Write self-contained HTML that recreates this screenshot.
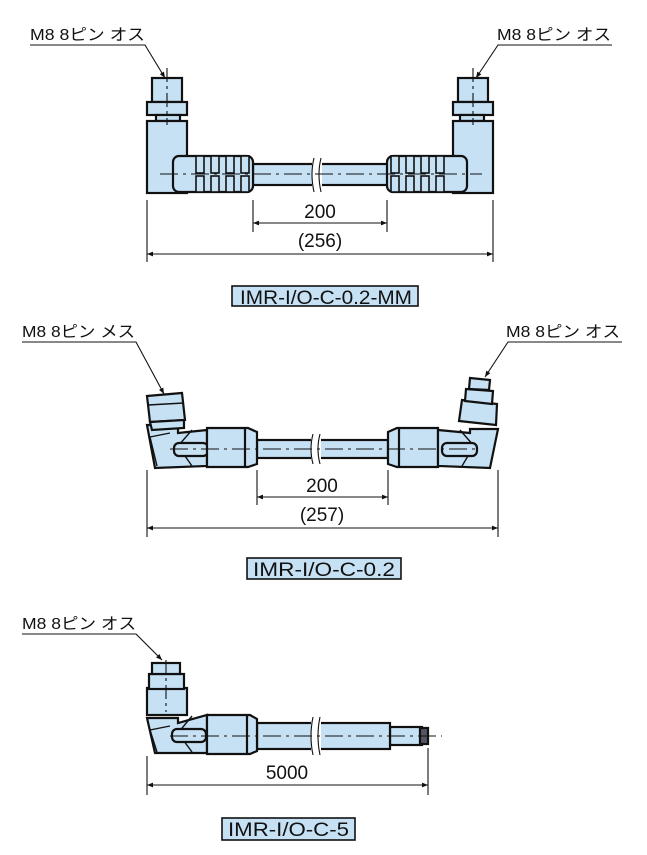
<!DOCTYPE html>
<html><head><meta charset="utf-8"><style>
html,body{margin:0;padding:0;background:#fff;}
svg{display:block;}
text{font-family:"Liberation Sans","Noto Sans CJK JP",sans-serif;fill:#111;}
</style></head><body>
<svg width="647" height="855" viewBox="0 0 647 855" xmlns="http://www.w3.org/2000/svg">
<defs>
<marker id="ar" viewBox="0 0 10 10" refX="10" refY="5" markerWidth="10" markerHeight="6" orient="auto-start-reverse" markerUnits="userSpaceOnUse"><path d="M0,1 L10,5 L0,9 z" fill="#111"/></marker>
</defs>
<g stroke="#111" fill="#c6e1f4" stroke-width="2.2">

<!-- ===== Diagram 1 ===== -->
<g fill="none" stroke-width="1.1">
<polyline points="30,45 145,45 165,78" marker-end="url(#ar)"/>
<polyline points="612,45 498,45 476,78" marker-end="url(#ar)"/>
</g>
<rect x="152" y="78" width="30" height="24"/>
<rect x="147" y="102" width="40" height="13"/>
<rect x="156" y="115" width="24" height="6"/>
<rect x="147" y="121" width="40" height="72"/>
<rect x="253" y="164" width="135" height="21"/>
<rect x="173" y="156" width="80" height="36" rx="6"/>
<g fill="#c6e1f4" stroke-width="1.6">
<rect x="196" y="156" width="8" height="17"/><rect x="196" y="176" width="8" height="16"/>
<rect x="211" y="156" width="8" height="17"/><rect x="211" y="176" width="8" height="16"/>
<rect x="226" y="156" width="8" height="17"/><rect x="226" y="176" width="8" height="16"/>
<rect x="241" y="156" width="8" height="17"/><rect x="241" y="176" width="8" height="16"/>
</g>
<rect x="458" y="78" width="30" height="24"/>
<rect x="453" y="102" width="40" height="13"/>
<rect x="460" y="115" width="24" height="6"/>
<rect x="453" y="121" width="40" height="72"/>
<rect x="387" y="156" width="80" height="36" rx="6"/>
<g fill="#c6e1f4" stroke-width="1.6">
<rect x="391" y="156" width="8" height="17"/><rect x="391" y="176" width="8" height="16"/>
<rect x="406" y="156" width="8" height="17"/><rect x="406" y="176" width="8" height="16"/>
<rect x="421" y="156" width="8" height="17"/><rect x="421" y="176" width="8" height="16"/>
<rect x="436" y="156" width="8" height="17"/><rect x="436" y="176" width="8" height="16"/>
</g>
<rect x="312" y="160" width="10" height="30" fill="#fff" stroke="none"/>
<g fill="none" stroke-width="1.1">
<path d="M314,158 q-4,16 0,34 M321,158 q-4,16 0,34"/>
<line x1="160" y1="174" x2="482" y2="174" stroke-dasharray="18,5,3,5"/>
<line x1="167" y1="68" x2="167" y2="125" stroke-dasharray="14,4,3,4"/>
<line x1="473" y1="68" x2="473" y2="125" stroke-dasharray="14,4,3,4"/>
<line x1="147" y1="200" x2="147" y2="262"/>
<line x1="493" y1="200" x2="493" y2="262"/>
<line x1="253" y1="200" x2="253" y2="232"/>
<line x1="387" y1="200" x2="387" y2="232"/>
<line x1="253" y1="223" x2="387" y2="223" marker-start="url(#ar)" marker-end="url(#ar)"/>
<line x1="147" y1="254" x2="493" y2="254" marker-start="url(#ar)" marker-end="url(#ar)"/>
</g>
<rect x="232" y="286" width="186" height="20" stroke-width="1.6"/>

<!-- ===== Diagram 2 ===== -->
<g fill="none" stroke-width="1.1">
<polyline points="22,342 136,342 164,394" marker-end="url(#ar)"/>
<polyline points="622,342 508,342 485,377" marker-end="url(#ar)"/>
</g>
<rect x="257" y="440" width="131" height="18"/>
<path d="M147,425 L178,425 L178,433 L207,430 L207,466 L155,468 Z"/>
<path d="M170,433 L150,437 L157,466" fill="none" stroke-width="1.4"/>
<path d="M192,430 L178,446 L192,466" fill="none" stroke-width="1.4"/>
<rect x="174" y="443" width="34" height="13" rx="5"/>
<path d="M207,428 L248,428 L257,432 L257,464 L248,467 L207,467 Z"/>
<line x1="245" y1="428" x2="245" y2="467"/>
<path d="M147,396 L182,393 L185,420 L150,422 Z"/>
<line x1="148" y1="405" x2="184" y2="403" stroke-width="1.4"/>
<path d="M150,422 L184,420 L184,428 L152,430 Z"/>
<path d="M388,432 L397,428 L438,428 L438,467 L397,467 L388,464 Z"/>
<line x1="399" y1="428" x2="399" y2="467"/>
<path d="M498,429 L470,429 L470,433 L438,430 L438,466 L490,468 Z"/>
<path d="M460,430 L474,446 L462,466" fill="none" stroke-width="1.4"/>
<rect x="442" y="443" width="35" height="13" rx="5"/>
<path d="M462,400 L497,404 L496,425 L459,421 Z"/>
<path d="M466,389 L493,391 L492,404 L465,401 Z"/>
<path d="M470,378 L490,380 L489,390 L469,389 Z"/>
<rect x="311" y="436" width="10" height="26" fill="#fff" stroke="none"/>
<g fill="none" stroke-width="1.1">
<path d="M313,434 q-4,15 0,30 M320,434 q-4,15 0,30"/>
<line x1="170" y1="449" x2="480" y2="449" stroke-dasharray="18,5,3,5"/>
<line x1="147" y1="470" x2="147" y2="537"/>
<line x1="498" y1="470" x2="498" y2="537"/>
<line x1="257" y1="470" x2="257" y2="505"/>
<line x1="388" y1="470" x2="388" y2="505"/>
<line x1="257" y1="497" x2="388" y2="497" marker-start="url(#ar)" marker-end="url(#ar)"/>
<line x1="147" y1="528" x2="498" y2="528" marker-start="url(#ar)" marker-end="url(#ar)"/>
</g>
<rect x="247" y="558" width="154" height="21" stroke-width="1.6"/>

<!-- ===== Diagram 3 ===== -->
<g fill="none" stroke-width="1.1">
<polyline points="22,634 136,634 162,660" marker-end="url(#ar)"/>
</g>
<rect x="390" y="727" width="32" height="18"/>
<rect x="420" y="728" width="8" height="16" fill="#556"/>
<rect x="257" y="723" width="133" height="26"/>
<path d="M147,718 L178,718 L178,723 L207,715 L207,753 L155,753 Z"/>
<path d="M170,726 L150,730 L157,752" fill="none" stroke-width="1.4"/>
<path d="M192,716 L178,733 L192,752" fill="none" stroke-width="1.4"/>
<rect x="172" y="729" width="34" height="13" rx="5"/>
<path d="M207,715 L250,715 L257,719 L257,751 L250,754 L207,754 Z"/>
<line x1="247" y1="715" x2="247" y2="754"/>
<rect x="147" y="688" width="40" height="27"/>
<rect x="149" y="674" width="35" height="15"/>
<rect x="152" y="663" width="28" height="11"/>
<rect x="311" y="719" width="10" height="34" fill="#fff" stroke="none"/>
<g fill="none" stroke-width="1.1">
<path d="M313,717 q-4,19 0,38 M320,717 q-4,19 0,38"/>
<line x1="170" y1="736" x2="442" y2="736" stroke-dasharray="18,5,3,5"/>
<line x1="166" y1="660" x2="166" y2="712" stroke-dasharray="14,4,3,4"/>
<line x1="147" y1="756" x2="147" y2="795"/>
<line x1="428" y1="748" x2="428" y2="795"/>
<line x1="147" y1="785" x2="428" y2="785" marker-start="url(#ar)" marker-end="url(#ar)"/>
</g>
<rect x="222" y="818" width="133" height="22" stroke-width="1.6"/>
</g>

<g font-size="16">
<text x="30" y="40" textLength="115" lengthAdjust="spacingAndGlyphs">M8 8ピン オス</text>
<text x="497" y="40" textLength="114" lengthAdjust="spacingAndGlyphs">M8 8ピン オス</text>
<text x="320" y="218" text-anchor="middle" font-size="19">200</text>
<text x="320" y="247" text-anchor="middle" font-size="19">(256)</text>
<text x="240" y="304" font-size="19" textLength="172" lengthAdjust="spacingAndGlyphs">IMR-I/O-C-0.2-MM</text>

<text x="22" y="337" textLength="113" lengthAdjust="spacingAndGlyphs">M8 8ピン メス</text>
<text x="506" y="337" textLength="114" lengthAdjust="spacingAndGlyphs">M8 8ピン オス</text>
<text x="322" y="492" text-anchor="middle" font-size="19">200</text>
<text x="322" y="521" text-anchor="middle" font-size="19">(257)</text>
<text x="253" y="576" font-size="19" textLength="142" lengthAdjust="spacingAndGlyphs">IMR-I/O-C-0.2</text>

<text x="22" y="629" textLength="114" lengthAdjust="spacingAndGlyphs">M8 8ピン オス</text>
<text x="287" y="779" text-anchor="middle" font-size="19">5000</text>
<text x="228" y="836" font-size="19" textLength="121" lengthAdjust="spacingAndGlyphs">IMR-I/O-C-5</text>
</g>
</svg>
</body></html>
